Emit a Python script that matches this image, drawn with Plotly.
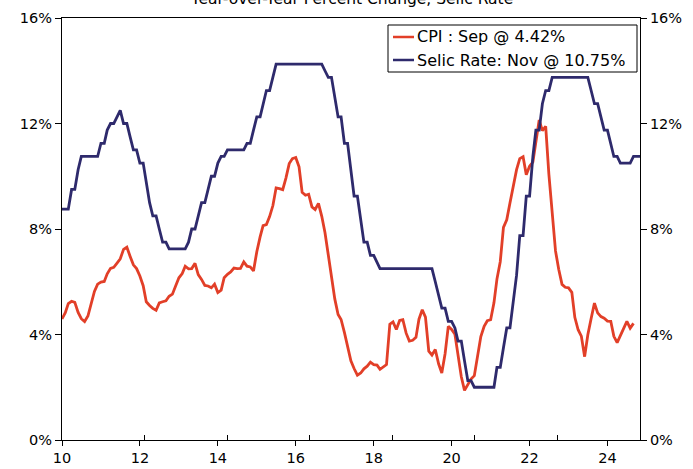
import plotly.graph_objects as go
import pandas as pd

# Brazil: IPCA y/y (%) and Selic target rate (%), monthly
cpi_values = [
    4.59, 4.83, 5.17, 5.26, 5.22, 4.84, 4.60, 4.49, 4.70, 5.20, 5.63, 5.91,   # 2010
    5.99, 6.01, 6.30, 6.51, 6.55, 6.71, 6.87, 7.23, 7.31, 6.97, 6.64, 6.50,   # 2011
    6.22, 5.85, 5.24, 5.10, 4.99, 4.92, 5.20, 5.24, 5.28, 5.45, 5.53, 5.84,   # 2012
    6.15, 6.31, 6.59, 6.49, 6.50, 6.70, 6.27, 6.09, 5.86, 5.84, 5.77, 5.91,   # 2013
    5.59, 5.68, 6.15, 6.28, 6.37, 6.52, 6.50, 6.51, 6.75, 6.59, 6.56, 6.41,   # 2014
    7.14, 7.70, 8.13, 8.17, 8.47, 8.89, 9.56, 9.53, 9.49, 9.93, 10.48, 10.67, # 2015
    10.71, 10.36, 9.39, 9.28, 9.32, 8.84, 8.74, 8.97, 8.48, 7.87, 6.99, 6.29, # 2016
    5.35, 4.76, 4.57, 4.08, 3.60, 3.00, 2.71, 2.46, 2.54, 2.70, 2.80, 2.95,   # 2017
    2.86, 2.84, 2.68, 2.76, 2.86, 4.39, 4.48, 4.19, 4.53, 4.56, 4.05, 3.75,   # 2018
    3.78, 3.89, 4.58, 4.94, 4.66, 3.37, 3.22, 3.43, 2.89, 2.54, 3.27, 4.31,   # 2019
    4.19, 4.01, 3.30, 2.40, 1.88, 2.13, 2.31, 2.44, 3.14, 3.92, 4.31, 4.52,   # 2020
    4.56, 5.20, 6.10, 6.76, 8.06, 8.35, 8.99, 9.68, 10.25, 10.67, 10.74, 10.06,  # 2021
    10.38, 10.54, 11.30, 12.13, 11.73, 11.89, 10.07, 8.73, 7.17, 6.47, 5.90, 5.79,  # 2022
    5.77, 5.60, 4.65, 4.18, 3.94, 3.16, 3.99, 4.61, 5.19, 4.82, 4.68, 4.62,   # 2023
    4.51, 4.50, 3.93, 3.69, 3.93, 4.23, 4.50, 4.24, 4.42,                     # 2024 (to Sep)
]

selic_values = [
    8.75, 8.75, 8.75, 9.50, 9.50, 10.25, 10.75, 10.75, 10.75, 10.75, 10.75, 10.75,  # 2010
    11.25, 11.25, 11.75, 12.00, 12.00, 12.25, 12.50, 12.00, 12.00, 11.50, 11.00, 11.00,  # 2011
    10.50, 10.50, 9.75, 9.00, 8.50, 8.50, 8.00, 7.50, 7.50, 7.25, 7.25, 7.25,  # 2012
    7.25, 7.25, 7.25, 7.50, 8.00, 8.00, 8.50, 9.00, 9.00, 9.50, 10.00, 10.00,  # 2013
    10.50, 10.75, 10.75, 11.00, 11.00, 11.00, 11.00, 11.00, 11.00, 11.25, 11.25, 11.75,  # 2014
    12.25, 12.25, 12.75, 13.25, 13.25, 13.75, 14.25, 14.25, 14.25, 14.25, 14.25, 14.25,  # 2015
    14.25, 14.25, 14.25, 14.25, 14.25, 14.25, 14.25, 14.25, 14.25, 14.00, 13.75, 13.75,  # 2016
    13.00, 12.25, 12.25, 11.25, 11.25, 10.25, 9.25, 9.25, 8.25, 7.50, 7.50, 7.00,  # 2017
    7.00, 6.75, 6.50, 6.50, 6.50, 6.50, 6.50, 6.50, 6.50, 6.50, 6.50, 6.50,  # 2018
    6.50, 6.50, 6.50, 6.50, 6.50, 6.50, 6.50, 6.00, 5.50, 5.00, 5.00, 4.50,  # 2019
    4.50, 4.25, 3.75, 3.75, 3.00, 2.25, 2.25, 2.00, 2.00, 2.00, 2.00, 2.00,  # 2020
    2.00, 2.00, 2.75, 2.75, 3.50, 4.25, 4.25, 5.25, 6.25, 7.75, 7.75, 9.25,  # 2021
    9.25, 10.75, 11.75, 11.75, 12.75, 13.25, 13.25, 13.75, 13.75, 13.75, 13.75, 13.75,  # 2022
    13.75, 13.75, 13.75, 13.75, 13.75, 13.75, 13.75, 13.25, 12.75, 12.75, 12.25, 11.75,  # 2023
    11.75, 11.25, 10.75, 10.75, 10.50, 10.50, 10.50, 10.50, 10.75, 10.75, 10.75,  # 2024 (to Nov)
]

cpi_dates = pd.date_range("2010-01-01", periods=len(cpi_values), freq="MS")
selic_dates = pd.date_range("2010-01-01", periods=len(selic_values), freq="MS")

series_names = ["CPI : Sep @ 4.42%", "Selic Rate: Nov @ 10.75%"]
y_ticks = [0, 4, 8, 12, 16]
y_ticktext = ["0%", "4%", "8%", "12%", "16%"]

FONT = "DejaVu Sans, Verdana, sans-serif"
CPI_RED = "#E23F28"
SELIC_NAVY = "#2E2A6C"
COLORS = [CPI_RED, SELIC_NAVY]

# plot area in pixels (for placing the hand-built legend box)
L, R, T, B = 62, 640, 18, 440
W, H = 693, 469


def px_x(p):
    return (p - L) / (R - L)


def px_y(p):
    return (B - p) / (B - T)


fig = go.Figure()

fig.add_trace(
    go.Scatter(
        x=cpi_dates, y=cpi_values,
        mode="lines", name=series_names[0],
        line=dict(color=CPI_RED, width=2.8),
    )
)
fig.add_trace(
    go.Scatter(
        x=selic_dates, y=selic_values,
        mode="lines", name=series_names[1],
        line=dict(color=SELIC_NAVY, width=2.8),
    )
)
# empty trace that carries the right-hand axis and the inward tick half
fig.add_trace(
    go.Scatter(x=[], y=[], xaxis="x2", yaxis="y2", showlegend=False,
               hoverinfo="skip")
)

# title sits partly above the page edge, as in the source
fig.add_annotation(
    text="Year-over-Year Percent Change, Selic Rate",
    xref="paper", yref="paper", x=0.5, y=1,
    yanchor="middle", yshift=19,
    showarrow=False,
    font=dict(family=FONT, size=15.5, color="#000"),
)

# legend box
fig.add_shape(
    type="rect", xref="paper", yref="paper",
    x0=px_x(388), x1=px_x(637), y0=px_y(72), y1=px_y(25),
    line=dict(color="#000", width=1), fillcolor="white", layer="above",
)
for i, (name, color) in enumerate(zip(series_names, COLORS)):
    yy = px_y(37 + i * 23)
    fig.add_shape(
        type="line", xref="paper", yref="paper",
        x0=px_x(393), x1=px_x(414), y0=yy, y1=yy,
        line=dict(color=color, width=2.5), layer="above",
    )
    fig.add_annotation(
        text=name, xref="paper", yref="paper",
        x=px_x(415), y=yy, xanchor="left", yanchor="middle",
        showarrow=False,
        font=dict(family=FONT, size=16, color="#000"),
    )

axis_font = dict(family=FONT, size=14.5, color="#000")
date_range = [cpi_dates[0], selic_dates[-1]]

fig.update_layout(
    width=W, height=H,
    paper_bgcolor="white", plot_bgcolor="white",
    margin=dict(l=L, r=W - R, t=T, b=H - B),
    showlegend=False,
    xaxis=dict(
        range=date_range,
        tickformat="%y", dtick="M24", tick0="2010-01-01",
        ticks="outside", ticklen=5, tickcolor="#000",
        showline=True, linecolor="#000", linewidth=1, mirror=True,
        showgrid=False, zeroline=False, automargin=False,
        tickfont=axis_font,
    ),
    xaxis2=dict(
        range=date_range, overlaying="x", anchor="y2", side="bottom",
        dtick="M24", tick0="2010-01-01",
        ticks="inside", ticklen=5, tickcolor="#000",
        showticklabels=False, showline=False,
        showgrid=False, zeroline=False, automargin=False,
    ),
    yaxis=dict(
        range=[0, 16], tickvals=y_ticks, ticktext=y_ticktext,
        ticks="outside", ticklen=6, tickcolor="#000",
        showline=True, linecolor="#000", linewidth=1,
        showgrid=False, zeroline=True, zerolinecolor="#333", zerolinewidth=2,
        automargin=False, tickfont=axis_font,
    ),
    yaxis2=dict(
        range=[0, 16], tickvals=y_ticks, ticktext=y_ticktext,
        overlaying="y", side="right", anchor="x2",
        ticks="outside", ticklen=6, tickcolor="#000",
        showline=True, linecolor="#000", linewidth=1,
        showgrid=False, zeroline=False, automargin=False,
        tickfont=axis_font,
    ),
)

# drop the default page margin so the figure sits at the window's corner
fig.write_html(
    "out.html",
    config={"displayModeBar": False},
    post_script="document.body.style.margin='0';",
)
